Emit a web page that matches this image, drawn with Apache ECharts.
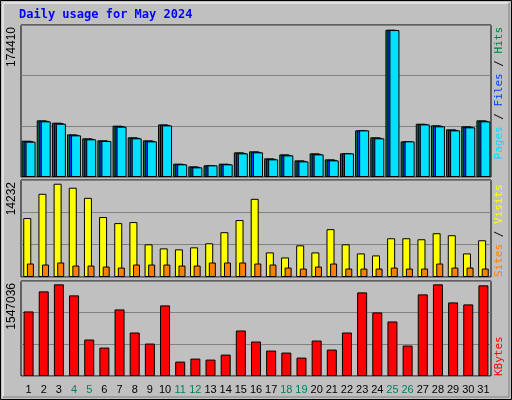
<!DOCTYPE html>
<html><head><meta charset="utf-8">
<script src="https://cdn.jsdelivr.net/npm/echarts@6/dist/echarts.min.js"></script>
<style>html,body{margin:0;padding:0;background:#C0C0C0}#c{width:512px;height:400px}</style>
</head><body><div id="c"></div>
<script>
const days = ['1','2','3','4','5','6','7','8','9','10','11','12','13','14','15','16','17','18','19','20','21','22','23','24','25','26','27','28','29','30','31'];
const weekendDays = ['4','5','11','12','18','19','25','26'];
const hits = [43000,67100,64300,50500,45800,43400,60800,47000,43400,62300,15800,12600,13800,15800,29200,30400,22100,26800,19700,28000,20900,28000,55200,47000,174410,42200,63100,61200,56400,60000,67100];
const files = [42400,66500,63700,49900,45200,43000,60200,46400,42800,61700,15400,12000,13800,15400,28600,29800,21500,26200,19100,27400,20300,28000,55200,46400,174200,42200,62700,60600,55800,59400,66500];
const pages = [41800,65900,63100,49300,44600,42600,59600,45800,42200,61100,15000,11400,13800,15000,28000,29200,20900,25600,18500,26800,19700,28000,55200,45800,174000,42200,62300,60000,55200,58800,65900];
const visits = [8995,12696,14232,13621,12079,9149,8224,8378,4986,4369,4215,4523,5140,6836,8687,11925,3752,2981,4832,3752,7299,4986,3598,3290,5911,5911,5757,6682,6374,3598,5603];
const sites = [2056,1902,2210,1748,1748,1593,1439,1902,1902,1902,1748,1748,2210,2210,2210,2056,1902,1439,1285,1593,2056,1285,1285,1285,1439,1285,1285,2056,1439,1439,1285];
const kbytes = [1089700,1428400,1547036,1360700,615400,479900,1123600,734000,547700,1191300,242800,293600,276700,361300,767900,581500,429100,395200,310500,598500,446000,734000,1411500,1072700,920300,513800,1377600,1547036,1242100,1208200,1530100];
const maxLabels = ['174410','14232','1547036'];

const chart = echarts.init(document.getElementById('c'));
const grids = [
  {left:21,right:21,top:25,height:152},
  {left:21,right:21,top:180,height:97},
  {left:21,right:21,top:281,height:95}
].map(g=>Object.assign(g,{show:true,backgroundColor:'#C0C0C0',borderColor:'#000',borderWidth:1}));
const ymax = [180000,14800,1603500];
const yAxis = ymax.map((m,i)=>({gridIndex:i,type:'value',min:0,max:m,interval:m/3,
  axisLabel:{show:false},axisLine:{show:false},axisTick:{show:false},
  splitLine:{lineStyle:{color:'#808080',width:1}}}));
const lf = 'Liberation Sans';
const xAxis = [0,1,2].map(i=>({gridIndex:i,type:'category',data:days,
  axisLine:{show:false},axisTick:{show:false},
  axisLabel:{show:i===2,interval:0,margin:8,fontFamily:lf,fontSize:11,
    formatter:v=>weekendDays.includes(v)?'{w|'+v+'}':'{n|'+v+'}',
    rich:{w:{color:'#00805F',fontFamily:lf,fontSize:11},n:{color:'#000',fontFamily:lf,fontSize:11}}}}));
const bs = c=>({color:c,borderColor:'#000',borderWidth:1});
const mono = '11px "DejaVu Sans Mono"';
chart.setOption({
  backgroundColor:'#C0C0C0',animation:false,
  grid:grids,xAxis:xAxis,yAxis:yAxis,
  series:[
    {type:'bar',xAxisIndex:0,yAxisIndex:0,data:hits,barWidth:10,barGap:'-80%',itemStyle:bs('#008040')},
    {type:'bar',xAxisIndex:0,yAxisIndex:0,data:files,barWidth:10,barGap:'-80%',itemStyle:bs('#0040FF')},
    {type:'bar',xAxisIndex:0,yAxisIndex:0,data:pages,barWidth:10,barGap:'-80%',itemStyle:bs('#00E0FF')},
    {type:'bar',xAxisIndex:1,yAxisIndex:1,data:visits,barWidth:8,barGap:'-55%',itemStyle:bs('#FFFF00')},
    {type:'bar',xAxisIndex:1,yAxisIndex:1,data:sites,barWidth:7,barGap:'-55%',itemStyle:bs('#FF8000')},
    {type:'bar',xAxisIndex:2,yAxisIndex:2,data:kbytes,barWidth:10,itemStyle:bs('#FF0000')}
  ],
  graphic:[
    {type:'rect',shape:{x:0.5,y:0.5,width:511,height:399},style:{fill:null,stroke:'#000',lineWidth:1}},
    {type:'polyline',shape:{points:[[3,397],[3,3],[509,3]]},style:{fill:null,stroke:'#fff',lineWidth:1}},
    {type:'polyline',shape:{points:[[3,397],[509,397],[509,3]]},style:{fill:null,stroke:'#808080',lineWidth:1}},
    {type:'text',x:19,y:9,style:{text:'Daily usage for May 2024',fill:'#0000FF',font:'bold 12px "DejaVu Sans Mono"'}},
    {type:'text',x:12,y:27,rotation:Math.PI/2,style:{text:maxLabels[0],fill:'#000',font:'12px "Liberation Sans"',align:'right',verticalAlign:'middle'}},
    {type:'text',x:12,y:182,rotation:Math.PI/2,style:{text:maxLabels[1],fill:'#000',font:'12px "Liberation Sans"',align:'right',verticalAlign:'middle'}},
    {type:'text',x:12,y:283,rotation:Math.PI/2,style:{text:maxLabels[2],fill:'#000',font:'12px "Liberation Sans"',align:'right',verticalAlign:'middle'}},
    {type:'text',x:499,y:27,rotation:Math.PI/2,style:{text:'{p|Pages}{s| / }{f|Files}{s| / }{h|Hits}',align:'right',verticalAlign:'middle',
      font:mono,rich:{p:{fill:'#00E0FF',font:mono},f:{fill:'#0040FF',font:mono},h:{fill:'#008040',font:mono},s:{fill:'#000',font:mono}}}},
    {type:'text',x:499,y:277,rotation:Math.PI/2,style:{text:'{a|Sites}{s| / }{b|Visits}',align:'left',verticalAlign:'middle',
      font:mono,rich:{a:{fill:'#FF8000',font:mono},b:{fill:'#FFFF00',font:mono},s:{fill:'#000',font:mono}}}},
    {type:'text',x:499,y:376,rotation:Math.PI/2,style:{text:'KBytes',fill:'#FF0000',font:mono,align:'left',verticalAlign:'middle'}}
  ]
});
</script></body></html>
